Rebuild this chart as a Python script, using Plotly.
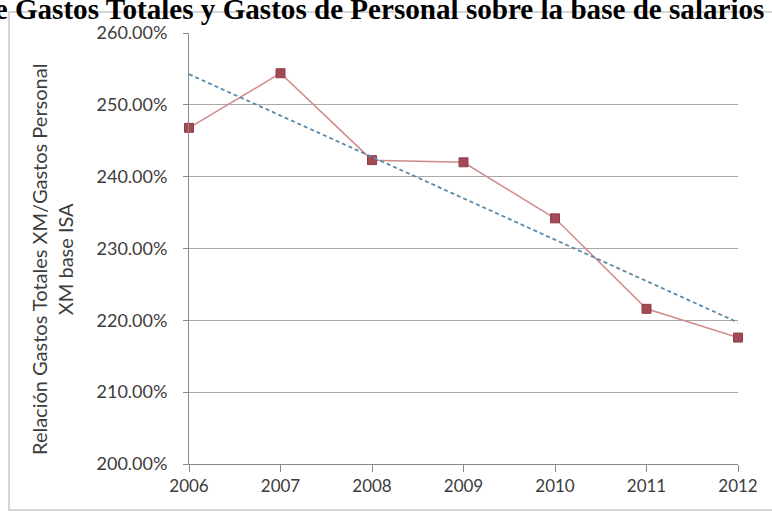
import numpy as np
import plotly.graph_objects as go

# Relación anual (en %) entre gastos totales XM y gastos de personal XM base ISA
years = [2006, 2007, 2008, 2009, 2010, 2011, 2012]
ratio_pct = [246.8, 254.4, 242.3, 242.0, 234.2, 221.6, 217.6]
y_ticks = [200, 210, 220, 230, 240, 250, 260]
y_tick_labels = ["200.00%", "210.00%", "220.00%", "230.00%", "240.00%", "250.00%", "260.00%"]

title_text = "Relación de Gastos Totales y Gastos de Personal sobre la base de salarios"
y_title = "Relación Gastos Totales XM/Gastos Personal<br>XM base ISA"

# linear trend line over the series
coef = np.polyfit(years, ratio_pct, 1)
trend = np.polyval(coef, years)

W, H = 772, 514
L, R, T, B = 189, 34, 33, 50
pw, ph = W - L - R, H - T - B


def px_x(p):
    return (p - L) / pw


def px_y(p):
    return (H - B - p) / ph


fig = go.Figure()
fig.add_trace(go.Scatter(
    x=years, y=ratio_pct, mode="lines+markers",
    line=dict(color="#d08a8a", width=1.5),
    marker=dict(symbol="square", size=9, color="#a34a55",
                line=dict(color="#8e3f4a", width=1)),
    cliponaxis=False, showlegend=False,
))
fig.add_trace(go.Scatter(
    x=years, y=trend, mode="lines",
    line=dict(color="#5a8aa8", width=1.8, dash="4px,3px"),
    cliponaxis=False, showlegend=False,
))

font_family = "Lato, 'Open Sans', sans-serif"
fig.update_layout(
    width=W, height=H,
    margin=dict(l=L, r=R, t=T, b=B, pad=0),
    paper_bgcolor="white", plot_bgcolor="white",
    font=dict(family=font_family, size=18, color="#3c3c3c"),
    xaxis=dict(
        range=[2006, 2012], tickvals=years, ticktext=[str(v) for v in years],
        showgrid=False, zeroline=False, showline=True, linecolor="#8a8a8a",
        linewidth=1, ticks="outside", ticklen=7, tickcolor="#8a8a8a",
        tickfont=dict(size=17), fixedrange=True,
    ),
    yaxis=dict(
        range=[200, 260], tickvals=y_ticks, ticktext=y_tick_labels,
        showgrid=True, gridcolor="#a8a8a8", gridwidth=1, zeroline=False,
        showline=True, linecolor="#8a8a8a", linewidth=1,
        ticks="outside", ticklen=5, tickcolor="#8a8a8a",
        ticklabelstandoff=12,
        tickfont=dict(size=18),
    ),
    shapes=[
        dict(type="rect", xref="paper", yref="paper",
             x0=px_x(9), x1=px_x(790), y0=px_y(510), y1=px_y(12),
             line=dict(color="#c8c8c8", width=1.5), fillcolor="rgba(0,0,0,0)",
             layer="below"),
    ],
    annotations=[
        dict(text="<b>" + title_text + "</b>", xref="paper", yref="paper",
             x=px_x(766), y=px_y(-9), xanchor="right", yanchor="top",
             showarrow=False,
             font=dict(family="'Liberation Serif', 'Times New Roman', serif",
                       size=29.1, color="black")),
        dict(text=y_title, xref="paper", yref="paper",
             x=px_x(52), y=px_y(260), xanchor="center", yanchor="middle",
             textangle=-90, showarrow=False,
             font=dict(size=20, color="#3c3c3c")),
    ],
)

fig.write_html("out.html")
